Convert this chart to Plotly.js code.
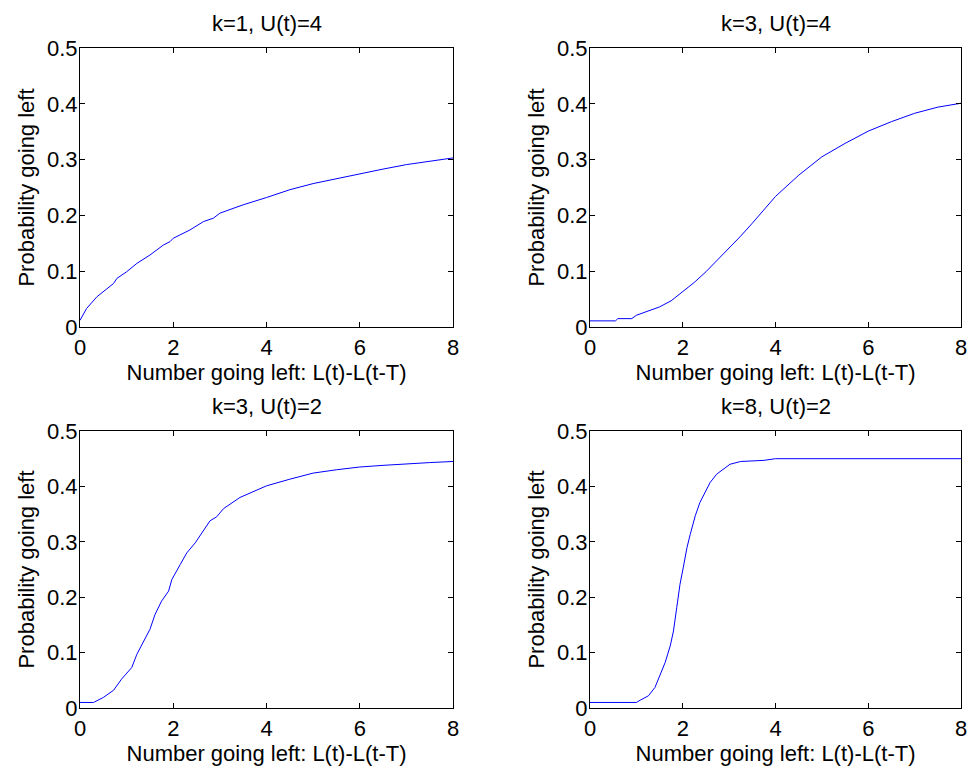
<!DOCTYPE html>
<html>
<head>
<meta charset="utf-8">
<script src="https://cdn.plot.ly/plotly-3.0.1.min.js"></script>
<style>html,body{margin:0;padding:0;background:#fff;}#chart{width:972px;height:769px;}</style>
</head>
<body>
<div id="chart"></div>
<script>
// Panel titles
const panelTitles = ["k=1, U(t)=4", "k=3, U(t)=4", "k=3, U(t)=2", "k=8, U(t)=2"];
const xTitle = "Number going left: L(t)-L(t-T)";
const yTitle = "Probability going left";

// Panel 1: k=1, U(t)=4
const x1 = [0, 0.14, 0.36, 0.57, 0.72, 0.79, 1.0, 1.22, 1.5, 1.79, 1.93, 2.0, 2.36, 2.65, 2.86, 3.0, 3.5, 4.0, 4.5, 5.0, 5.5, 6.0, 6.5, 7.0, 7.5, 8.0];
const y1 = [0.012, 0.033, 0.054, 0.069, 0.078, 0.087, 0.099, 0.114, 0.129, 0.147, 0.153, 0.159, 0.174, 0.189, 0.195, 0.204, 0.219, 0.232, 0.246, 0.257, 0.266, 0.274, 0.283, 0.291, 0.297, 0.303];

// Panel 2: k=3, U(t)=4
const x2 = [0, 0.55, 0.6, 0.9, 1.0, 1.25, 1.5, 1.75, 2.0, 2.25, 2.5, 2.75, 3.0, 3.25, 3.5, 3.75, 4.0, 4.5, 5.0, 5.5, 6.0, 6.5, 7.0, 7.5, 8.0];
const y2 = [0.011, 0.011, 0.015, 0.015, 0.021, 0.028, 0.036, 0.047, 0.063, 0.08, 0.099, 0.12, 0.141, 0.163, 0.186, 0.21, 0.234, 0.272, 0.305, 0.329, 0.351, 0.368, 0.383, 0.394, 0.401];

// Panel 3: k=3, U(t)=2
const x3 = [0, 0.29, 0.5, 0.72, 0.89, 1.11, 1.22, 1.36, 1.5, 1.61, 1.75, 1.9, 1.97, 2.15, 2.29, 2.47, 2.61, 2.79, 2.93, 3.08, 3.43, 4.0, 4.5, 5.0, 5.5, 6.0, 6.5, 7.0, 7.5, 8.0];
const y3 = [0.01, 0.01, 0.019, 0.032, 0.052, 0.073, 0.097, 0.121, 0.142, 0.169, 0.193, 0.211, 0.232, 0.259, 0.28, 0.298, 0.316, 0.338, 0.345, 0.36, 0.38, 0.401, 0.413, 0.424, 0.43, 0.435, 0.438, 0.441, 0.443, 0.445];

// Panel 4: k=8, U(t)=2
const x4 = [0, 1.0, 1.08, 1.26, 1.4, 1.51, 1.62, 1.73, 1.8, 1.87, 1.94, 2.01, 2.09, 2.16, 2.27, 2.37, 2.48, 2.59, 2.73, 2.88, 3.02, 3.25, 3.5, 3.75, 4.0, 8.0];
const y4 = [0.01, 0.01, 0.014, 0.022, 0.037, 0.058, 0.082, 0.112, 0.139, 0.181, 0.223, 0.253, 0.289, 0.313, 0.347, 0.371, 0.389, 0.407, 0.422, 0.431, 0.44, 0.445, 0.446, 0.447, 0.45, 0.45];

const xTicks = [0, 2, 4, 6, 8];
const yTicks = [0, 0.1, 0.2, 0.3, 0.4, 0.5];

const W = 972, H = 769;
const FONT = "Liberation Sans, Arial, sans-serif";
const line = {color: "#0000ff", width: 1};

const xs = [x1, x2, x3, x4], ys = [y1, y2, y3, y4];
const traces = xs.map((x, i) => ({
  x: x, y: ys[i], type: "scatter", mode: "lines", line: line,
  xaxis: i === 0 ? "x" : "x" + (i + 1), yaxis: i === 0 ? "y" : "y" + (i + 1),
  showlegend: false, hoverinfo: "skip"
}));

// domains in pixels: [left,right] and [top,bottom]
const colPx = [[80, 453], [590, 961]];
const rowPx = [[48, 327], [431, 708]];

function xAxis(col) {
  return {
    domain: [colPx[col][0] / W, colPx[col][1] / W],
    range: [0, 8], tickvals: xTicks, ticktext: xTicks.map(String),
    ticks: "inside", ticklen: 5, tickwidth: 1, tickcolor: "#000",
    showline: true, linecolor: "#000", linewidth: 1, mirror: "ticks",
    showgrid: false, zeroline: false,
    tickfont: {family: FONT, size: 22, color: "#000"},
    ticklabelstandoff: 1,
    title: {text: xTitle, font: {family: FONT, size: 22, color: "#000"}, standoff: 0}
  };
}
function yAxis(row) {
  return {
    domain: [1 - rowPx[row][1] / H, 1 - rowPx[row][0] / H],
    range: [0, 0.5], tickvals: yTicks, ticktext: yTicks.map(String),
    ticks: "inside", ticklen: 5, tickwidth: 1, tickcolor: "#000",
    showline: true, linecolor: "#000", linewidth: 1, mirror: "ticks",
    showgrid: false, zeroline: false,
    tickfont: {family: FONT, size: 22, color: "#000"},
    ticklabelstandoff: -3,
    title: {text: yTitle, font: {family: FONT, size: 22, color: "#000"}, standoff: 6}
  };
}

const layout = {
  width: W, height: H,
  margin: {l: 0, r: 0, t: 0, b: 0},
  paper_bgcolor: "#fff", plot_bgcolor: "#fff",
  xaxis: Object.assign(xAxis(0), {anchor: "y"}),
  yaxis: Object.assign(yAxis(0), {anchor: "x"}),
  xaxis2: Object.assign(xAxis(1), {anchor: "y2"}),
  yaxis2: Object.assign(yAxis(0), {anchor: "x2"}),
  xaxis3: Object.assign(xAxis(0), {anchor: "y3"}),
  yaxis3: Object.assign(yAxis(1), {anchor: "x3"}),
  xaxis4: Object.assign(xAxis(1), {anchor: "y4"}),
  yaxis4: Object.assign(yAxis(1), {anchor: "x4"}),
  annotations: panelTitles.map((t, i) => {
    const col = i % 2, row = Math.floor(i / 2);
    return {
      text: t, showarrow: false, xref: "paper", yref: "paper",
      x: (colPx[col][0] + colPx[col][1]) / 2 / W,
      y: 1 - (rowPx[row][0] - 25) / H,
      xanchor: "center", yanchor: "middle",
      font: {family: FONT, size: 22, color: "#000"}
    };
  })
};

Plotly.newPlot("chart", traces, layout, {staticPlot: true, displayModeBar: false});
</script>
</body>
</html>
